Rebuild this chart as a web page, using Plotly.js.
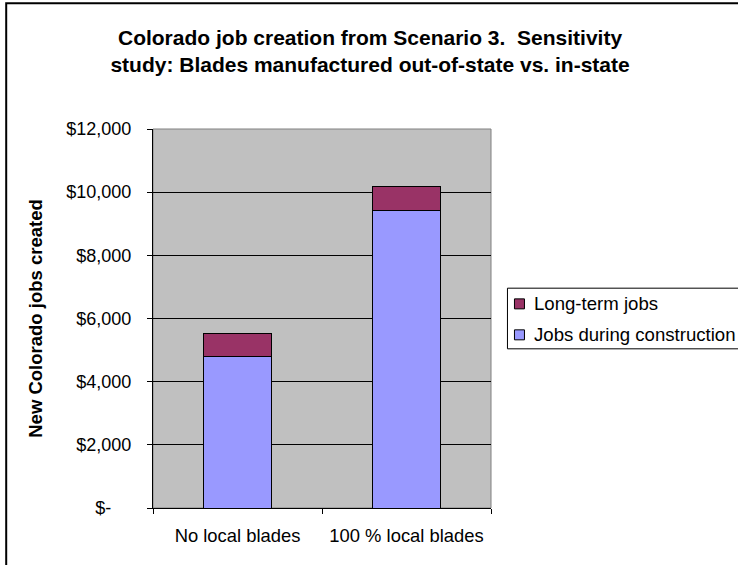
<!DOCTYPE html>
<html>
<head>
<meta charset="utf-8">
<script src="https://cdn.plot.ly/plotly-3.0.1.min.js"></script>
<style>html,body{margin:0;padding:0;background:#fff;}#chart{width:738px;height:565px;}</style>
</head>
<body>
<div id="chart"></div>
<script>
const categories = ["No local blades", "100 % local blades"];
const constructionJobs = [4800, 9420];
const longTermJobs = [740, 750];
const yTickVals = [0, 2000, 4000, 6000, 8000, 10000, 12000];
const yTickText = ["$-\u2007\u2007", "$2,000", "$4,000", "$6,000", "$8,000", "$10,000", "$12,000"];
const seriesNames = ["Jobs during construction", "Long-term jobs"];
const seriesColors = ["#9999FF", "#993366"];
const chartTitle = "Colorado job creation from Scenario 3.  Sensitivity<br>study: Blades manufactured out-of-state vs. in-state";
const yTitle = "New Colorado jobs created";

const FONT = '"Liberation Sans", Arial, Helvetica, sans-serif';

const traces = [
  {
    type: "bar", name: seriesNames[0], x: categories, y: constructionJobs,
    marker: {color: seriesColors[0], line: {color: "#000000", width: 1}},
    hoverinfo: "x+y"
  },
  {
    type: "bar", name: seriesNames[1], x: categories, y: longTermJobs,
    marker: {color: seriesColors[1], line: {color: "#000000", width: 1}},
    hoverinfo: "x+y"
  }
];

// Legend drawn as a box with swatches (top: Long-term, bottom: construction), like the original
const legendBox = {x0: 1.0487, x1: 1.75, y0: 0.42, y1: 0.58};
const legendRows = [
  {name: seriesNames[1], color: seriesColors[1], y: 0.5386},
  {name: seriesNames[0], color: seriesColors[0], y: 0.4569}
];
const swatchHalf = 0.0132;

const shapes = [
  {type: "rect", xref: "paper", yref: "paper", x0: 0, x1: 1, y0: 0, y1: 1,
   line: {color: "#808080", width: 1}, layer: "below"},
  {type: "rect", xref: "paper", yref: "paper", x0: -0.4343, x1: 2.5, y0: -1, y1: 1.332,
   line: {color: "#000000", width: 2}, layer: "below"},
  {type: "rect", xref: "paper", yref: "paper", x0: legendBox.x0, x1: legendBox.x1, y0: legendBox.y0, y1: legendBox.y1,
   line: {color: "#000000", width: 1}, fillcolor: "#FFFFFF", layer: "above"}
];
const annotations = [];
legendRows.forEach(r => {
  shapes.push({type: "rect", xref: "paper", yref: "paper", x0: 1.0694, x1: 1.099,
    y0: r.y - swatchHalf, y1: r.y + swatchHalf,
    line: {color: "#000000", width: 1}, fillcolor: r.color, layer: "above"});
  annotations.push({xref: "paper", yref: "paper", x: 1.1226, y: r.y, xanchor: "left", yanchor: "middle",
    text: r.name, showarrow: false, font: {family: FONT, size: 18.6, color: "#000000"}});
});

const layout = {
  width: 738, height: 565,
  margin: {l: 153, r: 246.5, t: 129, b: 56.7, pad: 0, autoexpand: false},
  paper_bgcolor: "#FFFFFF",
  plot_bgcolor: "#C0C0C0",
  barmode: "stack",
  bargap: 0.595,
  font: {family: FONT, size: 18, color: "#000000"},
  title: {
    text: chartTitle,
    font: {family: FONT, size: 21, color: "#000000", weight: "bold"},
    xref: "container", x: 0.5014, xanchor: "center",
    yref: "container", y: 0.921, yanchor: "middle"
  },
  xaxis: {
    type: "category",
    showgrid: false, zeroline: false,
    showline: true, linecolor: "#000000", linewidth: 1,
    ticks: "outside", ticklen: 5, tickcolor: "#000000", tickson: "boundaries",
    tickangle: 0,
    ticklabelstandoff: 11,
    tickfont: {family: FONT, size: 18.4, color: "#000000"},
    automargin: false,
    fixedrange: true
  },
  yaxis: {
    range: [0, 12000],
    tickvals: yTickVals, ticktext: yTickText,
    showgrid: true, gridcolor: "#000000", gridwidth: 1,
    zeroline: false,
    showline: true, linecolor: "#000000", linewidth: 1,
    ticks: "outside", ticklen: 5, tickcolor: "#000000",
    ticklabelstandoff: 12,
    tickfont: {family: FONT, size: 18, color: "#000000"},
    title: {text: yTitle, font: {family: FONT, size: 18.5, color: "#000000", weight: "bold"}, standoff: 18},
    automargin: false,
    fixedrange: true
  },
  showlegend: false,
  shapes: shapes,
  annotations: annotations
};

Plotly.newPlot("chart", traces, layout, {displayModeBar: false, staticPlot: true});
</script>
</body>
</html>
